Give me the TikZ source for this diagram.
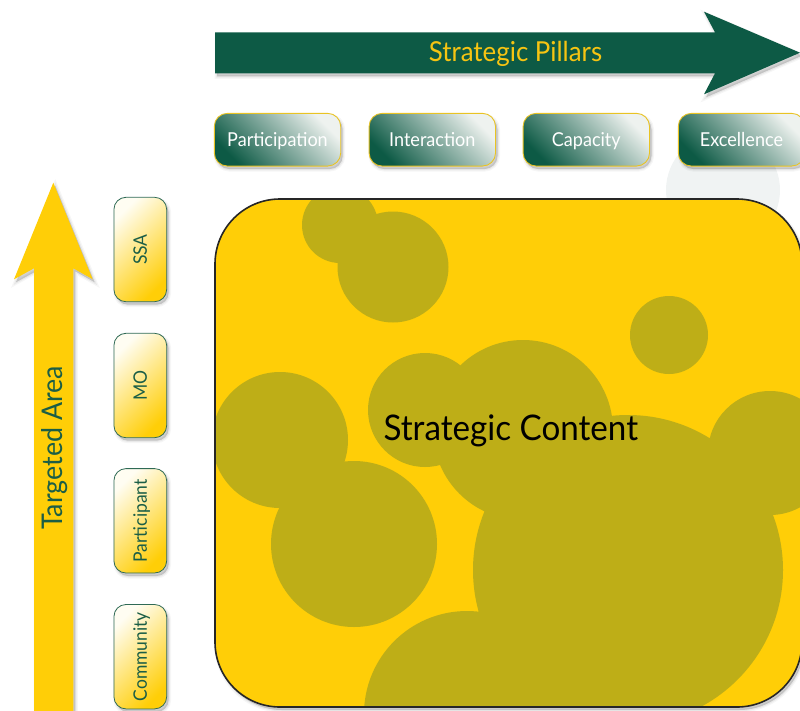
\documentclass[tikz,border=0pt]{standalone}
\usepackage{fontspec}
\setmainfont{Lato}[FakeStretch=0.94]
\usetikzlibrary{shadows}

\definecolor{pillargreen}{HTML}{0D5A45}
\definecolor{pillarlight}{HTML}{EEF2EF}
\definecolor{pillargold}{HTML}{F6C412}
\definecolor{boxedge}{HTML}{E9C323}
\definecolor{areayellow}{HTML}{FFCE07}
\definecolor{arealight}{HTML}{FFFDF2}
\definecolor{areaedge}{HTML}{2F6A55}
\definecolor{labelgreen}{HTML}{1B5E46}
\definecolor{bubbleolive}{HTML}{BEAE17}
\definecolor{haze}{HTML}{F0F3F3}

% rotated label with a fixed cap height so it sits centred in its box
\newcommand\uprot[1]{\rotatebox{90}{\raisebox{0pt}[13.3pt][0pt]{#1}}}

\tikzset{
  haloshadow/.style={
    general shadow={fill=black, draw=black, line width=5pt, opacity=0.035,
                    shadow xshift=2pt, shadow yshift=-3pt},
    general shadow={fill=black, draw=black, line width=2.5pt, opacity=0.05,
                    shadow xshift=2pt, shadow yshift=-3pt},
    general shadow={fill=black, opacity=0.09, shadow xshift=2pt, shadow yshift=-3pt}},
  pillarbox/.style={haloshadow, draw=boxedge, line width=0.9pt, rounded corners=13pt,
    minimum width=126.4pt, minimum height=52.7pt, inner sep=0pt,
    top color=pillarlight, bottom color=pillargreen, shading angle=-45,
    text=white, font=\fontsize{19.2}{22}\selectfont,
    text height=13.8pt, text depth=0pt},
  areabox/.style={haloshadow, draw=areaedge, line width=0.8pt, rounded corners=12pt,
    minimum width=52.7pt, minimum height=104.4pt, inner sep=0pt,
    top color=arealight, bottom color=areayellow, shading angle=45,
    text=labelgreen, font=\fontsize{18.6}{22}\selectfont},
  bigtitle/.style={anchor=base, inner sep=0pt},
}

\begin{document}
\begin{tikzpicture}[x=1pt, y=-1pt]
\useasboundingbox (0,0) rectangle (800,710);
\clip (0,0) rectangle (800,710);

% faint disc behind the last pillar
\fill[haze] (723,190) circle (57pt);

% horizontal arrow
\fill[pillargreen, haloshadow]
  (215,32.3) -- (715,32.3) -- (704,11.7) -- (800,52.7) -- (704,94.3)
  -- (715,73.3) -- (215,73.3) -- cycle;
\node[bigtitle, text=pillargold, font=\fontsize{27.5}{31}\selectfont] (pillars)
  at (515.5,61.7) {Strategic Pillars};

% pillar boxes
\node[pillarbox] (participation) at (277.5,139.7) {Participation};
\node[pillarbox] (interaction)   at (432.3,139.7) {Interaction};
\node[pillarbox] (capacity)      at (586.3,139.7) {Capacity};
\node[pillarbox] (excellence)    at (741.5,139.7) {Excellence};

% vertical arrow
\fill[areayellow, haloshadow]
  (34,715) -- (34,268.3) -- (14,279.3) -- (53.3,182.7) -- (92.7,279.3)
  -- (73.3,268.3) -- (73.3,715) -- cycle;
\node[bigtitle, text=labelgreen, rotate=90, font=\fontsize{28.5}{32}\selectfont] (area)
  at (62.2,448) {Targeted Area};

% targeted area boxes
\node[areabox] (ssa)         at (140.3,249.5) {\uprot{SSA}};
\node[areabox] (mo)          at (140.3,385.5) {\uprot{MO}};
\node[areabox] (participant) at (140.3,520.8) {\uprot{Participant}};
\node[areabox] (community)   at (140.3,656.7) {\uprot{Community}};

% content panel with its bubbles
\fill[haloshadow, rounded corners=65pt, white] (215,199) rectangle (802,707);
\begin{scope}
  \clip[rounded corners=65pt] (215,199) rectangle (802,707);
  \fill[areayellow] (215,199) rectangle (802,707);
  \fill[bubbleolive]
    (340,225) circle (38pt)
    (393,267) circle (55.5pt)
    (280,440) circle (68pt)
    (425,410) circle (57pt)
    (523,430) circle (90pt)
    (669,335) circle (39pt)
    (770,453) circle (62pt)
    (628,570) circle (155pt)
    (354,544) circle (83pt)
    (467,714) circle (103pt);
\end{scope}
\draw[black!85, line width=1.6pt, rounded corners=65pt] (215,199) rectangle (802,707);
\node[font=\fontsize{35.3}{40}\selectfont, anchor=base, inner sep=0pt] (content)
  at (510.8,440.7) {Strategic Content};
\end{tikzpicture}
\end{document}
